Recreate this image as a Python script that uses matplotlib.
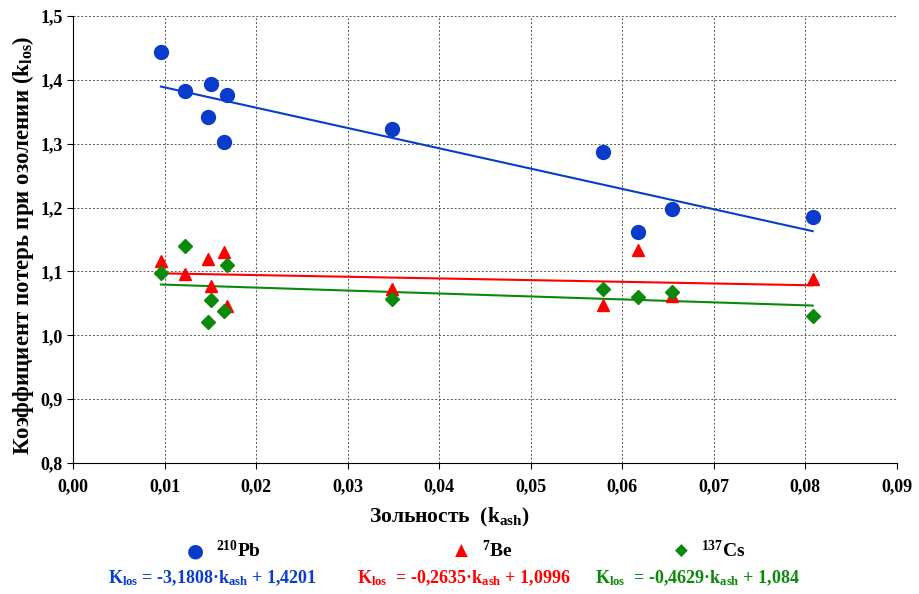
import matplotlib
matplotlib.use("Agg")
import matplotlib.pyplot as plt
from matplotlib.ticker import FuncFormatter, MultipleLocator

plt.rcParams['font.family'] = ['Liberation Serif', 'DejaVu Serif']
plt.rcParams['font.weight'] = 'bold'
plt.rcParams['axes.labelweight'] = 'bold'
plt.rcParams['mathtext.fontset'] = 'custom'
plt.rcParams['mathtext.rm'] = 'Liberation Serif:bold'
plt.rcParams['mathtext.it'] = 'Liberation Serif:bold'
plt.rcParams['mathtext.bf'] = 'Liberation Serif:bold'

# ash content (k_ash) for each sample
ash = [0.0096, 0.0122, 0.0151, 0.0147, 0.0168, 0.0165, 0.0348, 0.0579, 0.0617, 0.0654, 0.0808]

# loss coefficients (k_los)
pb210 = [1.444, 1.383, 1.394, 1.342, 1.376, 1.303, 1.323, 1.287, 1.162, 1.198, 1.185]
be7 = [1.117, 1.096, 1.077, 1.120, 1.046, 1.131, 1.073, 1.048, 1.134, 1.062, 1.088]
cs137 = [1.098, 1.140, 1.056, 1.021, 1.110, 1.038, 1.057, 1.073, 1.060, 1.068, 1.031]

# linear trend coefficients (slope, intercept)
fit_pb = (-3.1808, 1.4201)
fit_be = (-0.2635, 1.0996)
fit_cs = (-0.4629, 1.084)

c_pb = '#0a3ccc'
c_be = '#ff0000'
c_cs = '#0a8a0a'

fig = plt.figure(figsize=(9.19, 5.94), dpi=100)
ax = fig.add_axes([0.0794, 0.2205, 0.8966, 0.7525])

x0, x1 = min(ash), max(ash)
for (k, b), col in [(fit_pb, c_pb), (fit_be, c_be), (fit_cs, c_cs)]:
    ax.plot([x0, x1], [k * x0 + b, k * x1 + b], color=col, lw=1.5, zorder=2)

ax.plot(ash, pb210, 'o', color=c_pb, ms=10, zorder=3)
ax.plot(ash, be7, '^', color=c_be, ms=9, zorder=3)
ax.plot(ash, cs137, 'D', color=c_cs, ms=7, zorder=4)

ax.set_xlim(0, 0.09)
ax.set_ylim(0.8, 1.5)
ax.xaxis.set_major_locator(MultipleLocator(0.01))
ax.yaxis.set_major_locator(MultipleLocator(0.1))
ax.xaxis.set_major_formatter(FuncFormatter(lambda v, p: f'{v:.2f}'.replace('.', ',')))
ax.yaxis.set_major_formatter(FuncFormatter(lambda v, p: f'{v:.1f}'.replace('.', ',')))
ax.grid(True, color='#555555', ls=(0, (2, 2)), lw=0.7)
ax.set_axisbelow(True)
for s in ['top', 'right']:
    ax.spines[s].set_visible(False)
ax.tick_params(labelsize=13, direction='out', length=4)
ax.tick_params(axis='x', pad=7)

ax.set_ylabel('Коэффициент потерь при озолении (k$_{los}$)', fontsize=16.5)
ax.yaxis.set_label_coords(-0.0607, 0.488)
ax.yaxis.label.set_ha('center')
ax.yaxis.label.set_va('center')
ax.set_xlabel('Зольность  (k$_{ash}$)', fontsize=15.5)
ax.xaxis.set_label_coords(0.457, -0.121)
ax.xaxis.label.set_va('center')

# legend row
fig.text(0.213, 0.073, '●', color=c_pb, fontsize=14, ha='center', va='center', family='DejaVu Sans')
fig.text(0.235, 0.073, '$^{210}$Pb', fontsize=14, va='center')
fig.text(0.5025, 0.073, '▲', color=c_be, fontsize=12, ha='center', va='center', family='DejaVu Sans')
fig.text(0.525, 0.073, '$^{7}$Be', fontsize=14, va='center')
fig.text(0.7415, 0.073, '◆', color=c_cs, fontsize=12, ha='center', va='center', family='DejaVu Sans')
fig.text(0.763, 0.073, '$^{137}$Cs', fontsize=14, va='center')

# equations
fig.text(0.117, 0.027, 'K$_{los}$ = -3,1808·k$_{ash}$ + 1,4201', color=c_pb, fontsize=13, va='center')
fig.text(0.388, 0.027, 'K$_{los}$  = -0,2635·k$_{ash}$ + 1,0996', color=c_be, fontsize=13, va='center')
fig.text(0.647, 0.027, 'K$_{los}$  = -0,4629·k$_{ash}$ + 1,084', color=c_cs, fontsize=13, va='center')

fig.savefig('out.png', dpi=100)
